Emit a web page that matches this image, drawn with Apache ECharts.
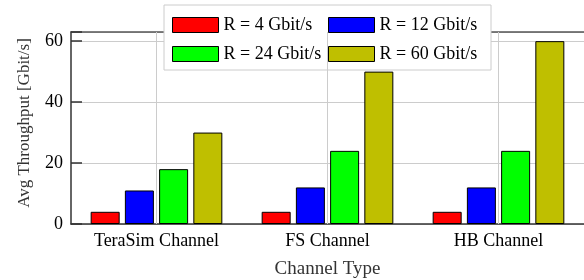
<!DOCTYPE html>
<html>
<head>
<meta charset="utf-8">
<script src="https://cdn.jsdelivr.net/npm/echarts@6/dist/echarts.min.js"></script>
<style>
  html, body { margin: 0; padding: 0; background: #fff; }
  #chart { width: 584px; height: 280px; }
</style>
</head>
<body>
<div id="chart"></div>
<script>
// data
const categories = ['TeraSim Channel', 'FS Channel', 'HB Channel'];
const r4 = [4, 4, 4];
const r12 = [11, 12, 12];
const r24 = [18, 24, 24];
const r60 = [30, 50, 60];
const seriesNames = ['R = 4 Gbit/s', 'R = 12 Gbit/s', 'R = 24 Gbit/s', 'R = 60 Gbit/s'];
const seriesData = [r4, r12, r24, r60];
const colors = ['#ff0000', '#0000ff', '#00ff00', '#bfbf00'];
const yTicks = [0, 20, 40, 60];

const FONT = 'Liberation Serif';

document.addEventListener('DOMContentLoaded', () => {
    const chart = echarts.init(document.getElementById('chart'));

    const series = seriesNames.map((name, i) => ({
        name: name,
        type: 'bar',
        data: seriesData[i],
        barWidth: 29,
        barGap: '18%',
        z: 3,
        itemStyle: { color: colors[i], borderColor: '#000', borderWidth: 1 }
    }));
    // vertical grid lines through the category centres (empty helper series)
    series.push({
        name: 'grid',
        type: 'line',
        data: [],
        z: 1,
        markLine: {
            silent: true,
            symbol: 'none',
            label: { show: false },
            lineStyle: { color: '#cccccc', type: 'solid', width: 1 },
            data: categories.map(c => ({ xAxis: c }))
        }
    });

    const legendCommon = {
        orient: 'vertical',
        icon: 'rect',
        itemWidth: 46,
        itemHeight: 15,
        itemGap: 11,
        top: 16,
        padding: 0,
        textStyle: { fontFamily: FONT, fontSize: 18, color: '#000' },
        itemStyle: { borderColor: '#000', borderWidth: 1 }
    };

    const option = {
        animation: false,
        color: colors,
        textStyle: { fontFamily: FONT },
        grid: { left: 71, right: 0, top: 32, bottom: 56, outerBoundsMode: 'none', containLabel: false },
        graphic: [{
            type: 'rect',
            z: 3,
            shape: { x: 164, y: 5, width: 327, height: 65 },
            style: { fill: '#fff', stroke: '#cccccc', lineWidth: 1 }
        }],
        legend: [
            Object.assign({}, legendCommon, { left: 172, data: [seriesNames[0], seriesNames[2]] }),
            Object.assign({}, legendCommon, { left: 328, data: [seriesNames[1], seriesNames[3]] })
        ],
        xAxis: [{
            type: 'category',
            data: categories,
            name: 'Channel Type',
            nameLocation: 'middle',
            nameGap: 36,
            nameTextStyle: { fontFamily: FONT, fontSize: 19, color: '#333' },
            axisLine: { lineStyle: { color: '#333', width: 1.5 } },
            axisTick: { alignWithLabel: true, inside: true, length: 10, lineStyle: { color: '#333', width: 1.5 } },
            axisLabel: { fontFamily: FONT, fontSize: 18, color: '#000', margin: 8 },
            splitLine: { show: false }
        }, {
            type: 'category',
            data: categories,
            position: 'top',
            axisLine: { lineStyle: { color: '#555', width: 1.5 } },
            axisTick: { show: false },
            axisLabel: { show: false },
            splitLine: { show: false }
        }],
        yAxis: {
            type: 'value',
            min: 0,
            max: 63,
            interval: 20,
            name: 'Avg Throughput [Gbit/s]',
            nameLocation: 'middle',
            nameGap: 38,
            nameTextStyle: { fontFamily: FONT, fontSize: 17, color: '#333', padding: [0, 0, 0, 10] },
            axisLine: { show: true, lineStyle: { color: '#333', width: 1.5 } },
            axisTick: { show: true, inside: true, length: 11, lineStyle: { color: '#333', width: 1.5 } },
            axisLabel: {
                fontFamily: FONT, fontSize: 18, color: '#000', margin: 8,
                formatter: v => (yTicks.includes(v) ? String(v) : '')
            },
            splitLine: { lineStyle: { color: '#cccccc', width: 1 } }
        },
        series: series
    };
    chart.setOption(option);
});
</script>
</body>
</html>
